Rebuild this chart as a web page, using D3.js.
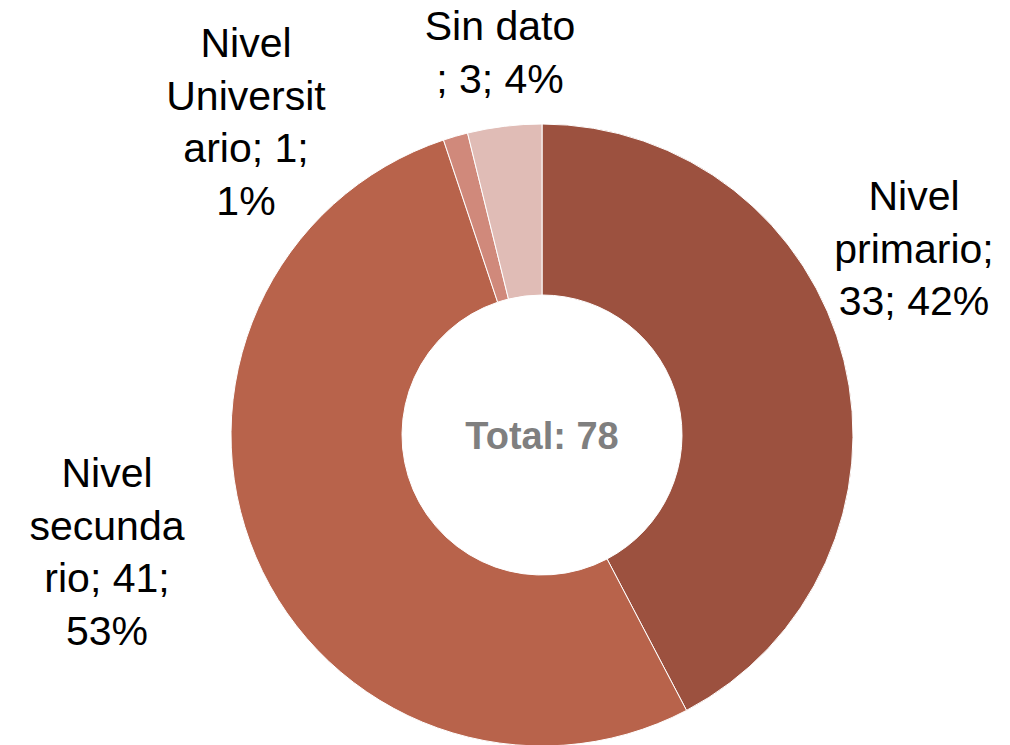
<!DOCTYPE html>
<html>
<head>
<meta charset="utf-8">
<script src="https://cdn.jsdelivr.net/npm/d3@7"></script>
<style>
  html, body { margin: 0; padding: 0; background: #ffffff; }
  svg { display: block; }
</style>
</head>
<body>
<svg id="chart" width="1010" height="745"></svg>
<script>
// ---- Data ----
const categories = ["Nivel primario", "Nivel secundario", "Nivel Universitario", "Sin dato"];
const values = [33, 41, 1, 3];
const colors = ["#9C513F", "#B8634B", "#D0897B", "#E0BCB6"];
const totalLabel = "Total: ";

// ---- Layout (positions / styles, not data) ----
const W = 1010, H = 745;
const cx = 542, cy = 435;
const rOuter = 311, rInner = 140;
const fontFamily = "'Liberation Sans', Arial, sans-serif";
const labelSize = 41;
const lineGap = 52.5;
// where each label's text is broken (char index into full label), its centre x and first baseline
const labelLayout = [
  { breaks: [5, 15], x: 914, y: 210 },
  { breaks: [5, 13, 22], x: 107, y: 487 },
  { breaks: [5, 15, 24], x: 246, y: 57 },
  { breaks: [8], x: 500, y: 40 }
];

const total = d3.sum(values);
const data = categories.map((c, i) => ({ name: c, value: values[i], color: colors[i], i }));

const svg = d3.select("#chart");
const g = svg.append("g").attr("transform", `translate(${cx},${cy})`);

const pie = d3.pie().value(d => d.value).sort(null);
const arc = d3.arc().innerRadius(rInner).outerRadius(rOuter);

g.selectAll("path.slice")
  .data(pie(data))
  .join("path")
  .attr("class", "slice")
  .attr("d", arc)
  .attr("fill", d => d.data.color)
  .attr("stroke", "#ffffff")
  .attr("stroke-width", 1);

// centre total
g.append("text")
  .attr("x", 0)
  .attr("y", 14)
  .attr("text-anchor", "middle")
  .attr("font-family", fontFamily)
  .attr("font-weight", "bold")
  .attr("font-size", 38)
  .attr("fill", "#7F7F7F")
  .text(totalLabel + total);

// labels
function splitAt(str, breaks) {
  const out = [];
  let prev = 0;
  breaks.concat([str.length]).forEach(b => {
    out.push(str.slice(prev, b).trim());
    prev = b;
  });
  return out;
}

data.forEach((d, i) => {
  const pct = Math.round(d.value / total * 100);
  const full = `${d.name}; ${d.value}; ${pct}%`;
  const lay = labelLayout[i];
  const lines = splitAt(full, lay.breaks);
  const t = svg.append("text")
    .attr("text-anchor", "middle")
    .attr("font-family", fontFamily)
    .attr("font-size", labelSize)
    .attr("fill", "#000000");
  lines.forEach((ln, k) => {
    t.append("tspan")
      .attr("x", lay.x)
      .attr("y", lay.y + k * lineGap)
      .text(ln);
  });
});
</script>
</body>
</html>
